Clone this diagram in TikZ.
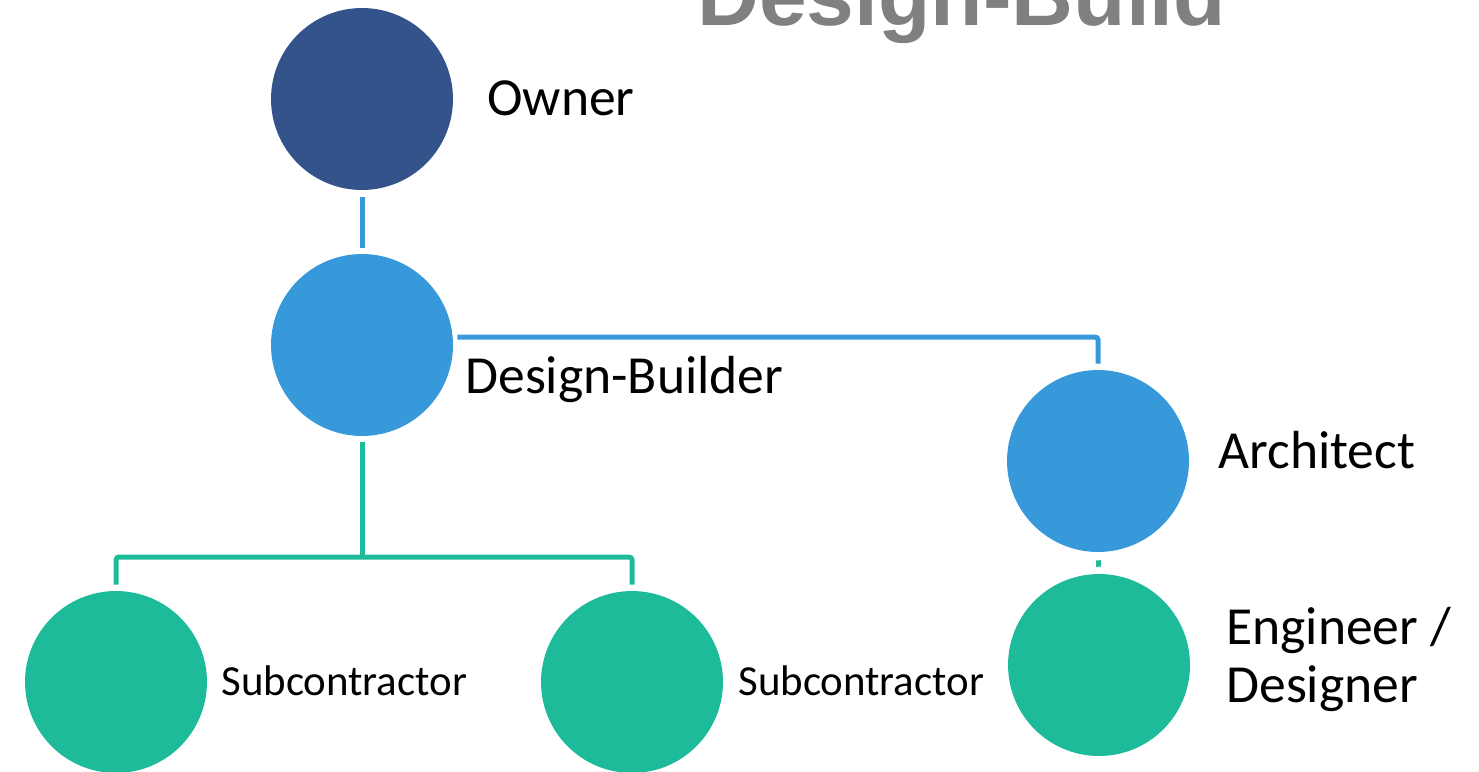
\documentclass[tikz,border=0pt]{standalone}
\usepackage{fontspec}
\setmainfont{Carlito}
\newfontfamily\titlefont{Liberation Sans}
\usepackage{tikz}
\usetikzlibrary{positioning}
\definecolor{ownerblue}{HTML}{34538B}
\definecolor{lightblue}{HTML}{3799D9}
\definecolor{teal}{HTML}{1EBB9B}
\definecolor{titlegray}{HTML}{808080}
\tikzset{
    % Define standard node style
    party/.style={circle,minimum size=3.64cm,inner sep=0pt},
    owner node/.style={party,fill=ownerblue},
    blue node/.style={party,fill=lightblue},
    green node/.style={party,fill=teal},
    % Define style for labels
    biglabel/.style={inner sep=0pt,anchor=base west,font=\fontsize{30.5}{33}\selectfont},
    smalllabel/.style={inner sep=0pt,anchor=base west,font=\fontsize{24.4}{28}\selectfont},
    % Define line styles
    link/.style={line width=0.1cm,rounded corners=0.06cm},
    bluelink/.style={link,draw=lightblue},
    greenlink/.style={link,draw=teal}
}

\begin{document}
\begin{tikzpicture}[x=0.02cm,y=-0.02cm]
  \useasboundingbox (0,0) rectangle (1479,771);
  % title
  \node[inner sep=0pt,anchor=base west,text=titlegray,
        font=\titlefont\bfseries\fontsize{48.8}{52}\selectfont] (title) at (697,25) {Design-Build};
  % parties
  \node[owner node] (owner) at (362,99) {};
  \node[blue node] (db) at (362,345) {};
  \node[blue node] (arch) at (1098,461) {};
  \node[green node] (eng) at (1099,665) {};
  \node[green node] (sub1) at (116,682) {};
  \node[green node] (sub2) at (632,682) {};
  % labels
  \node[biglabel] (ownerlbl) at (487,115) {Owner};
  \node[biglabel] (dblbl) at (465,393) {Design-Builder};
  \node[biglabel] (archlbl) at (1218,468) {Architect};
  \node[inner sep=0pt,anchor=west,align=left,font=\fontsize{30.5}{33}\selectfont] (englbl) at (1226,659) {Engineer /\\Designer};
  \node[smalllabel] (sub1lbl) at (221,695) {Subcontractor};
  \node[smalllabel] (sub2lbl) at (738,695) {Subcontractor};
  % connectors
  \coordinate (split) at (362,557);
  \draw[bluelink,shorten <=0.14cm,shorten >=0.12cm] (owner.south) -- (db.north);
  \draw[bluelink] ([xshift=0.08cm,yshift=0.16cm]db.east) -| ([yshift=0.12cm]arch.north);
  \draw[greenlink] ([yshift=-0.12cm]db.south) -- (split);
  \draw[greenlink] (split) -| ([yshift=0.12cm]sub1.north);
  \draw[greenlink] (split) -| ([yshift=0.12cm]sub2.north);
  \draw[greenlink,shorten <=0.16cm,shorten >=0.14cm] (arch.south) -- (eng.north);
\end{tikzpicture}
\end{document}
